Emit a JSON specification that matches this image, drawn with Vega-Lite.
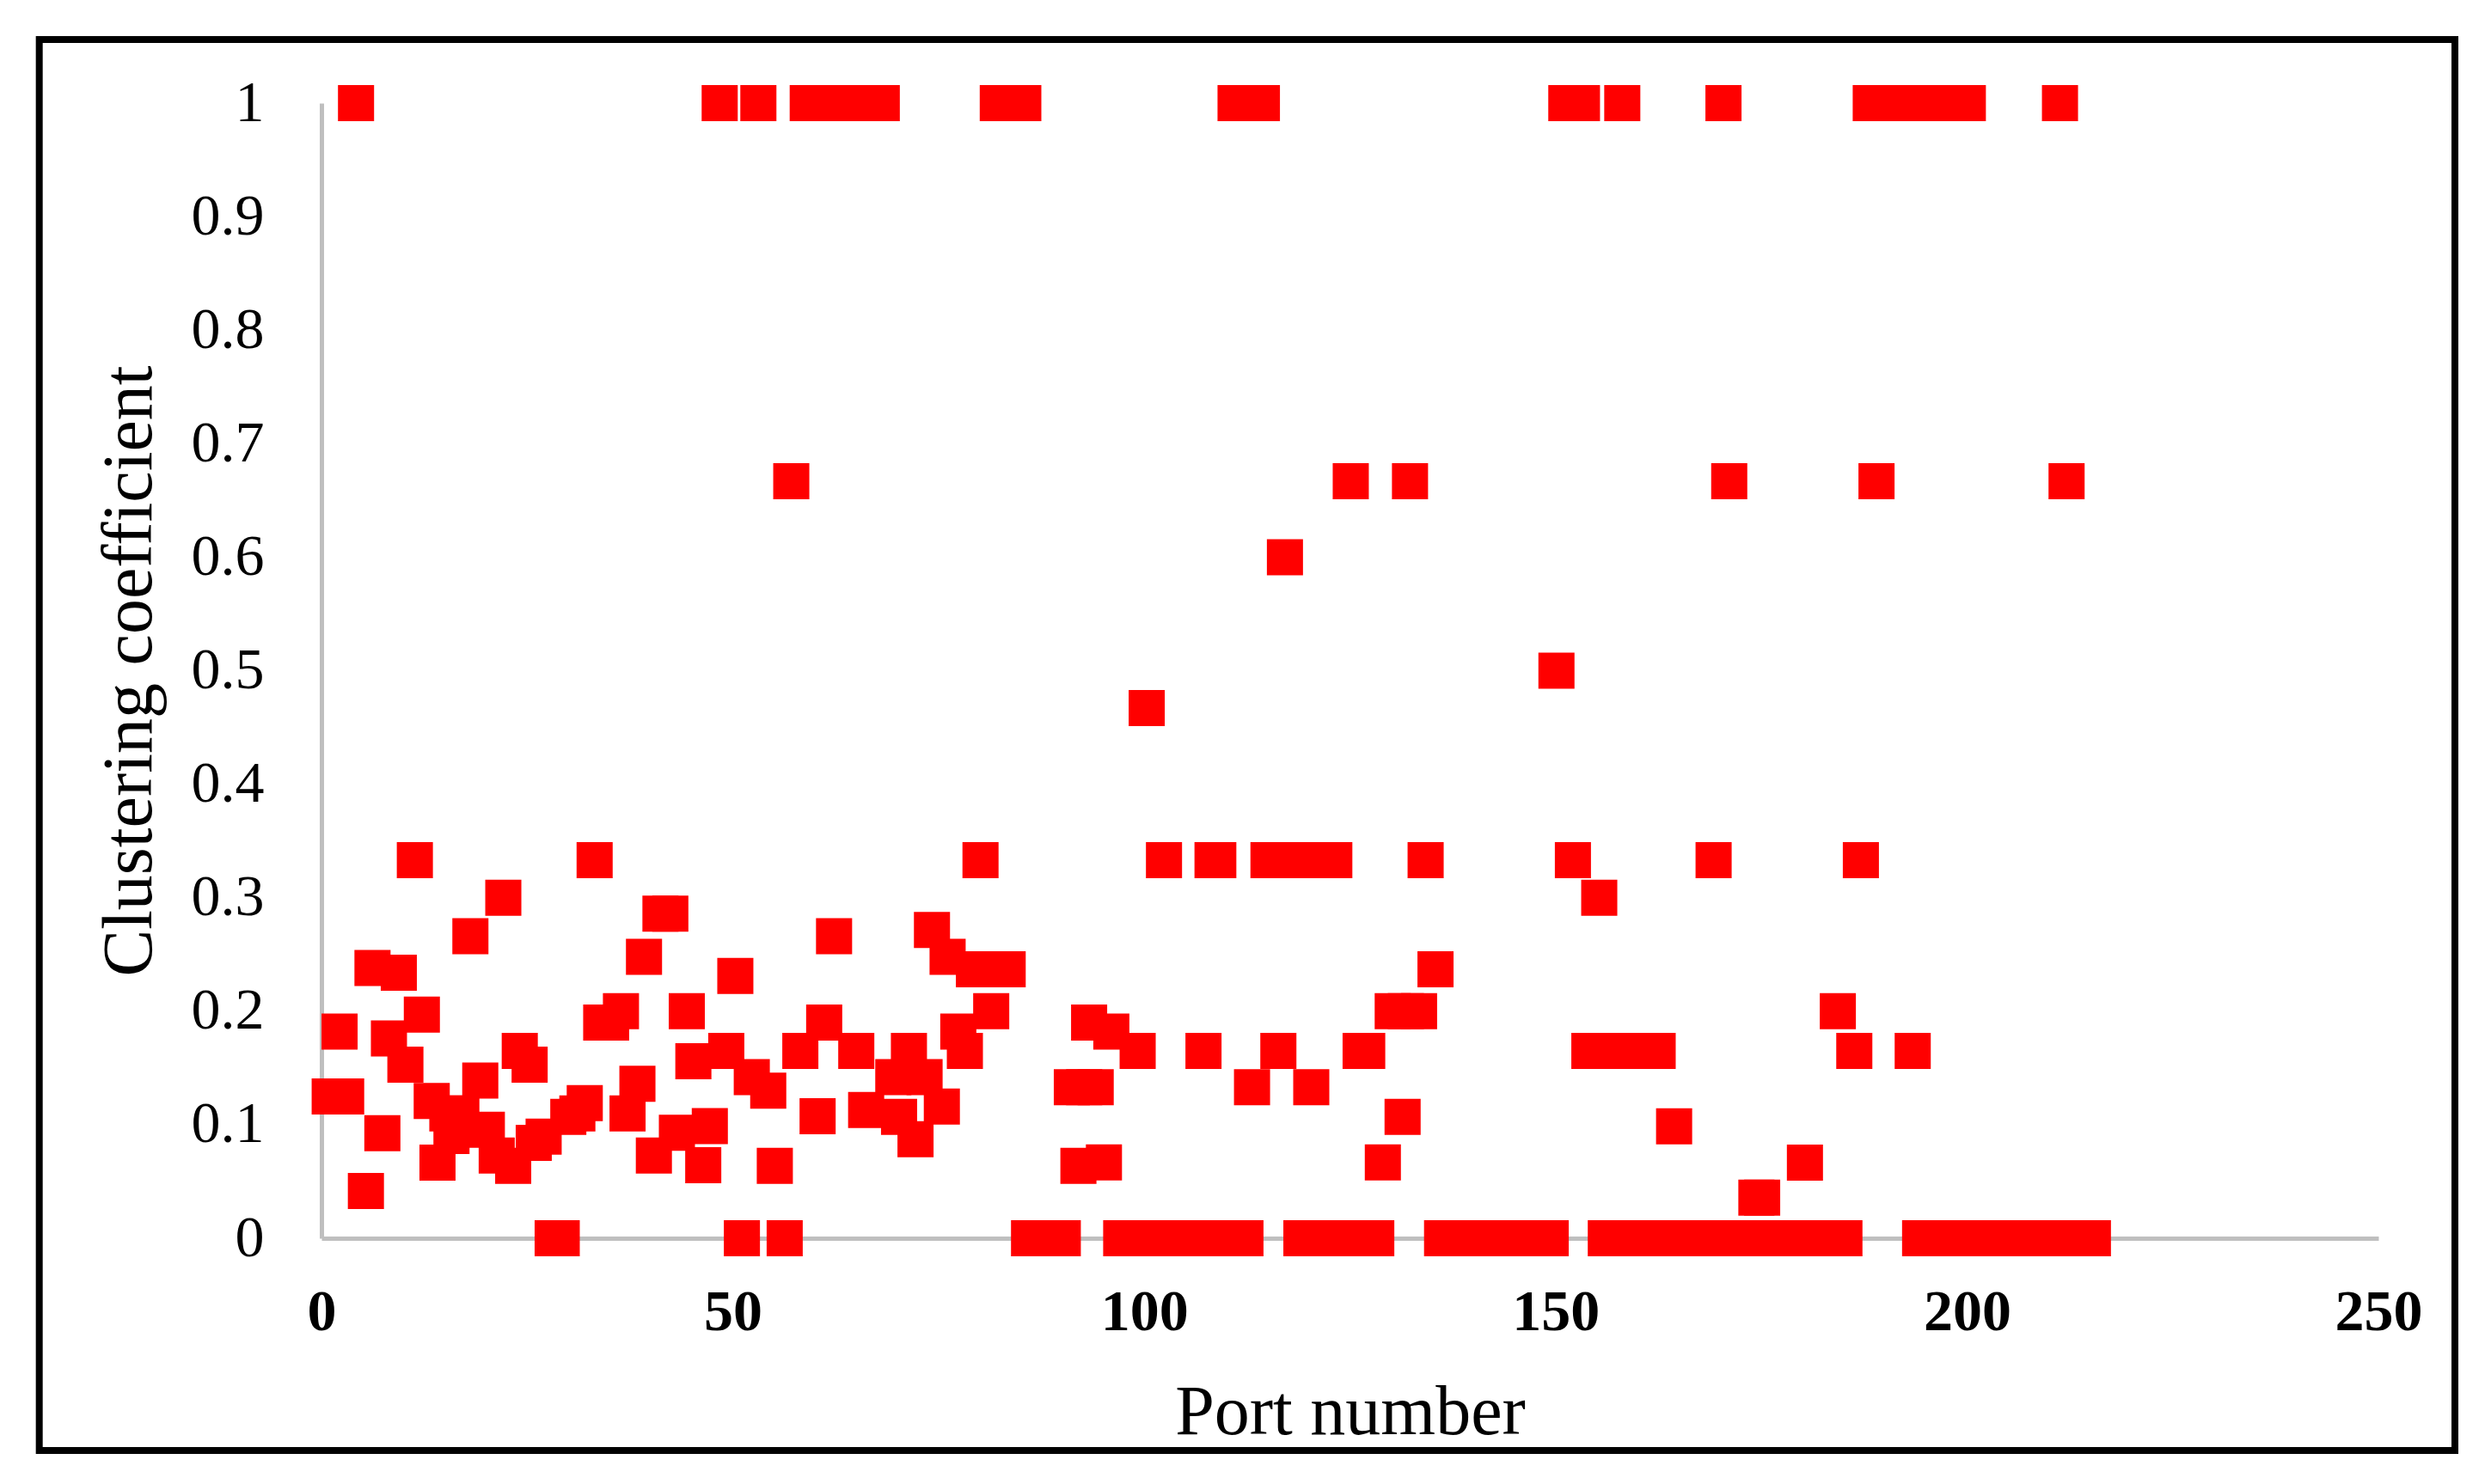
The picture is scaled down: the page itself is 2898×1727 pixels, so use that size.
{
  "$schema": "https://vega.github.io/schema/vega-lite/v6.json",
  "width": 2393,
  "height": 1321,
  "autosize": {"type": "none"},
  "padding": {"left": 374, "top": 120, "right": 131, "bottom": 286},
  "background": "white",
  "config": {"view": {"stroke": null}, "font": "Liberation Serif"},
  "resolve": {"axis": {"x": "independent", "y": "independent"}},
  "datasets": {
    "points": [
      {"port": 28.1, "cc": 0}, {"port": 29.2, "cc": 0}, {"port": 51.1, "cc": 0}, {"port": 56.3, "cc": 0},
      {"port": 86.0, "cc": 0}, {"port": 88.0, "cc": 0}, {"port": 90.1, "cc": 0},
      {"port": 97.2, "cc": 0}, {"port": 99.2, "cc": 0}, {"port": 101.2, "cc": 0}, {"port": 103.2, "cc": 0}, {"port": 105.2, "cc": 0}, {"port": 107.2, "cc": 0}, {"port": 109.2, "cc": 0}, {"port": 111.2, "cc": 0}, {"port": 112.3, "cc": 0},
      {"port": 119.1, "cc": 0}, {"port": 121.1, "cc": 0}, {"port": 123.1, "cc": 0}, {"port": 125.1, "cc": 0}, {"port": 127.1, "cc": 0}, {"port": 128.2, "cc": 0},
      {"port": 136.2, "cc": 0}, {"port": 138.2, "cc": 0}, {"port": 140.2, "cc": 0}, {"port": 142.2, "cc": 0}, {"port": 144.2, "cc": 0}, {"port": 146.2, "cc": 0}, {"port": 148.2, "cc": 0}, {"port": 149.4, "cc": 0},
      {"port": 156.1, "cc": 0}, {"port": 158.1, "cc": 0}, {"port": 160.1, "cc": 0}, {"port": 162.1, "cc": 0}, {"port": 164.1, "cc": 0}, {"port": 166.1, "cc": 0}, {"port": 168.1, "cc": 0}, {"port": 170.1, "cc": 0}, {"port": 172.1, "cc": 0}, {"port": 174.1, "cc": 0}, {"port": 176.1, "cc": 0}, {"port": 178.1, "cc": 0}, {"port": 180.1, "cc": 0}, {"port": 182.1, "cc": 0}, {"port": 184.1, "cc": 0}, {"port": 185.1, "cc": 0},
      {"port": 194.3, "cc": 0}, {"port": 196.3, "cc": 0}, {"port": 198.3, "cc": 0}, {"port": 200.3, "cc": 0}, {"port": 202.3, "cc": 0}, {"port": 204.3, "cc": 0}, {"port": 206.3, "cc": 0}, {"port": 208.3, "cc": 0}, {"port": 210.3, "cc": 0}, {"port": 212.3, "cc": 0}, {"port": 214.3, "cc": 0}, {"port": 215.3, "cc": 0},
      {"port": 4.2, "cc": 1}, {"port": 48.4, "cc": 1}, {"port": 53.1, "cc": 1},
      {"port": 59.1, "cc": 1}, {"port": 61.1, "cc": 1}, {"port": 63.1, "cc": 1}, {"port": 65.1, "cc": 1}, {"port": 67.1, "cc": 1}, {"port": 68.1, "cc": 1},
      {"port": 82.2, "cc": 1}, {"port": 84.2, "cc": 1}, {"port": 85.3, "cc": 1},
      {"port": 111.1, "cc": 1}, {"port": 113.1, "cc": 1}, {"port": 114.3, "cc": 1},
      {"port": 151.3, "cc": 1}, {"port": 153.2, "cc": 1}, {"port": 158.1, "cc": 1}, {"port": 170.4, "cc": 1},
      {"port": 188.3, "cc": 1}, {"port": 190.3, "cc": 1}, {"port": 192.3, "cc": 1}, {"port": 194.3, "cc": 1}, {"port": 196.3, "cc": 1}, {"port": 198.3, "cc": 1}, {"port": 200.1, "cc": 1},
      {"port": 211.3, "cc": 1},
      {"port": 57.1, "cc": 0.667}, {"port": 125.1, "cc": 0.667}, {"port": 132.3, "cc": 0.667}, {"port": 171.1, "cc": 0.667}, {"port": 189.0, "cc": 0.667}, {"port": 212.1, "cc": 0.667},
      {"port": 117.1, "cc": 0.6}, {"port": 150.1, "cc": 0.5}, {"port": 100.3, "cc": 0.467},
      {"port": 11.35, "cc": 0.333}, {"port": 33.2, "cc": 0.333}, {"port": 80.1, "cc": 0.333}, {"port": 102.4, "cc": 0.333}, {"port": 108.3, "cc": 0.333}, {"port": 109.0, "cc": 0.333},
      {"port": 115.1, "cc": 0.333}, {"port": 117.1, "cc": 0.333}, {"port": 119.1, "cc": 0.333}, {"port": 121.1, "cc": 0.333}, {"port": 123.1, "cc": 0.333},
      {"port": 134.2, "cc": 0.333}, {"port": 152.1, "cc": 0.333}, {"port": 169.2, "cc": 0.333}, {"port": 187.1, "cc": 0.333},
      {"port": 22.1, "cc": 0.3}, {"port": 155.3, "cc": 0.3},
      {"port": 1.0, "cc": 0.125}, {"port": 3.0, "cc": 0.125}, {"port": 2.2, "cc": 0.182}, {"port": 5.4, "cc": 0.0417}, {"port": 6.2, "cc": 0.238}, {"port": 7.4, "cc": 0.0926}, {"port": 8.2, "cc": 0.176}, {"port": 9.4, "cc": 0.234}, {"port": 10.2, "cc": 0.153}, {"port": 12.2, "cc": 0.197},
      {"port": 13.4, "cc": 0.121}, {"port": 14.1, "cc": 0.0667}, {"port": 15.3, "cc": 0.11}, {"port": 15.8, "cc": 0.09}, {"port": 17.0, "cc": 0.11}, {"port": 18.1, "cc": 0.266}, {"port": 19.3, "cc": 0.139}, {"port": 20.1, "cc": 0.0956}, {"port": 21.3, "cc": 0.0729}, {"port": 23.3, "cc": 0.0638},
      {"port": 24.1, "cc": 0.165}, {"port": 25.3, "cc": 0.153}, {"port": 25.8, "cc": 0.084}, {"port": 27.0, "cc": 0.0896}, {"port": 30.0, "cc": 0.107}, {"port": 31.1, "cc": 0.11}, {"port": 32.0, "cc": 0.119},
      {"port": 34.0, "cc": 0.19}, {"port": 35.2, "cc": 0.19}, {"port": 36.4, "cc": 0.2}, {"port": 37.2, "cc": 0.11}, {"port": 38.4, "cc": 0.136}, {"port": 39.2, "cc": 0.248}, {"port": 40.4, "cc": 0.0729},
      {"port": 41.2, "cc": 0.286}, {"port": 42.4, "cc": 0.286}, {"port": 43.2, "cc": 0.093}, {"port": 44.4, "cc": 0.2}, {"port": 45.2, "cc": 0.156}, {"port": 46.4, "cc": 0.0643}, {"port": 47.2, "cc": 0.0987},
      {"port": 49.2, "cc": 0.165}, {"port": 50.3, "cc": 0.231}, {"port": 52.3, "cc": 0.142}, {"port": 54.3, "cc": 0.13}, {"port": 55.1, "cc": 0.0638}, {"port": 58.2, "cc": 0.165}, {"port": 60.3, "cc": 0.1075},
      {"port": 61.1, "cc": 0.19}, {"port": 62.3, "cc": 0.266}, {"port": 65.0, "cc": 0.165}, {"port": 66.2, "cc": 0.113}, {"port": 69.5, "cc": 0.142}, {"port": 70.2, "cc": 0.107}, {"port": 71.4, "cc": 0.165},
      {"port": 72.2, "cc": 0.0873}, {"port": 73.3, "cc": 0.142}, {"port": 74.2, "cc": 0.2715}, {"port": 75.4, "cc": 0.116}, {"port": 76.1, "cc": 0.248}, {"port": 77.4, "cc": 0.182}, {"port": 78.2, "cc": 0.165},
      {"port": 79.3, "cc": 0.237}, {"port": 81.4, "cc": 0.237}, {"port": 83.4, "cc": 0.237}, {"port": 81.4, "cc": 0.2},
      {"port": 91.2, "cc": 0.133}, {"port": 92.7, "cc": 0.133}, {"port": 94.1, "cc": 0.133}, {"port": 92.0, "cc": 0.0638}, {"port": 95.1, "cc": 0.0669}, {"port": 93.3, "cc": 0.19}, {"port": 96.0, "cc": 0.182},
      {"port": 99.2, "cc": 0.165}, {"port": 107.2, "cc": 0.165}, {"port": 113.1, "cc": 0.133}, {"port": 116.3, "cc": 0.165}, {"port": 120.3, "cc": 0.133}, {"port": 126.3, "cc": 0.165}, {"port": 127.1, "cc": 0.165},
      {"port": 129.0, "cc": 0.0669}, {"port": 130.2, "cc": 0.2}, {"port": 131.8, "cc": 0.2}, {"port": 133.4, "cc": 0.2}, {"port": 131.4, "cc": 0.107}, {"port": 135.4, "cc": 0.237},
      {"port": 154.1, "cc": 0.165}, {"port": 156.2, "cc": 0.165}, {"port": 158.3, "cc": 0.165}, {"port": 160.4, "cc": 0.165}, {"port": 162.4, "cc": 0.165},
      {"port": 164.4, "cc": 0.0986}, {"port": 174.4, "cc": 0.0357}, {"port": 175.1, "cc": 0.0357}, {"port": 180.3, "cc": 0.0667}, {"port": 184.3, "cc": 0.2}, {"port": 186.3, "cc": 0.165}, {"port": 193.4, "cc": 0.165}
    ]
  },
  "layer": [
    {
      "data": {"name": "points"},
      "mark": {"type": "point", "shape": "square", "filled": true, "color": "#ff0000", "size": 1764, "opacity": 1, "strokeWidth": 0},
      "encoding": {
        "x": {
          "field": "port", "type": "quantitative", "title": "Port number",
          "scale": {"domain": [0, 250], "nice": false, "zero": false},
          "axis": {"values": [0, 50, 100, 150, 200, 250], "format": "d", "grid": false, "ticks": false, "tickSize": 0,
                   "domainColor": "#bfbfbf", "domainWidth": 5, "labelFont": "Liberation Serif", "labelFontSize": 68,
                   "labelFontWeight": "bold", "labelColor": "black", "labelPadding": 52, "labelFlush": false, "labelOverlap": false,
                   "titleFont": "Liberation Serif", "titleFontSize": 82, "titleFontWeight": "normal", "titleColor": "black", "titlePadding": 42}
        },
        "y": {
          "field": "cc", "type": "quantitative", "title": "Clustering coefficient",
          "scale": {"domain": [0, 1], "nice": false},
          "axis": {"values": [0, 0.1, 0.2, 0.3, 0.4, 0.5, 0.6, 0.7, 0.8, 0.9, 1], "format": "~g", "grid": false, "ticks": false, "tickSize": 0,
                   "domainColor": "#bfbfbf", "domainWidth": 5, "labelFont": "Liberation Serif", "labelFontSize": 68,
                   "labelColor": "black", "labelPadding": 67, "labelFlush": false, "labelOverlap": false,
                   "titleFont": "Liberation Serif", "titleFontSize": 82, "titleFontWeight": "normal", "titleColor": "black", "titlePadding": 30}
        }
      }
    },
    {
      "data": {"values": [{}]},
      "mark": {"type": "rect", "fillOpacity": 0, "stroke": "black", "strokeWidth": 8, "clip": false},
      "encoding": {
        "x": {"datum": -34.3, "type": "quantitative", "axis": null},
        "x2": {"datum": 259.3},
        "y": {"datum": 1.056, "type": "quantitative", "axis": null},
        "y2": {"datum": -0.187}
      }
    }
  ]
}
